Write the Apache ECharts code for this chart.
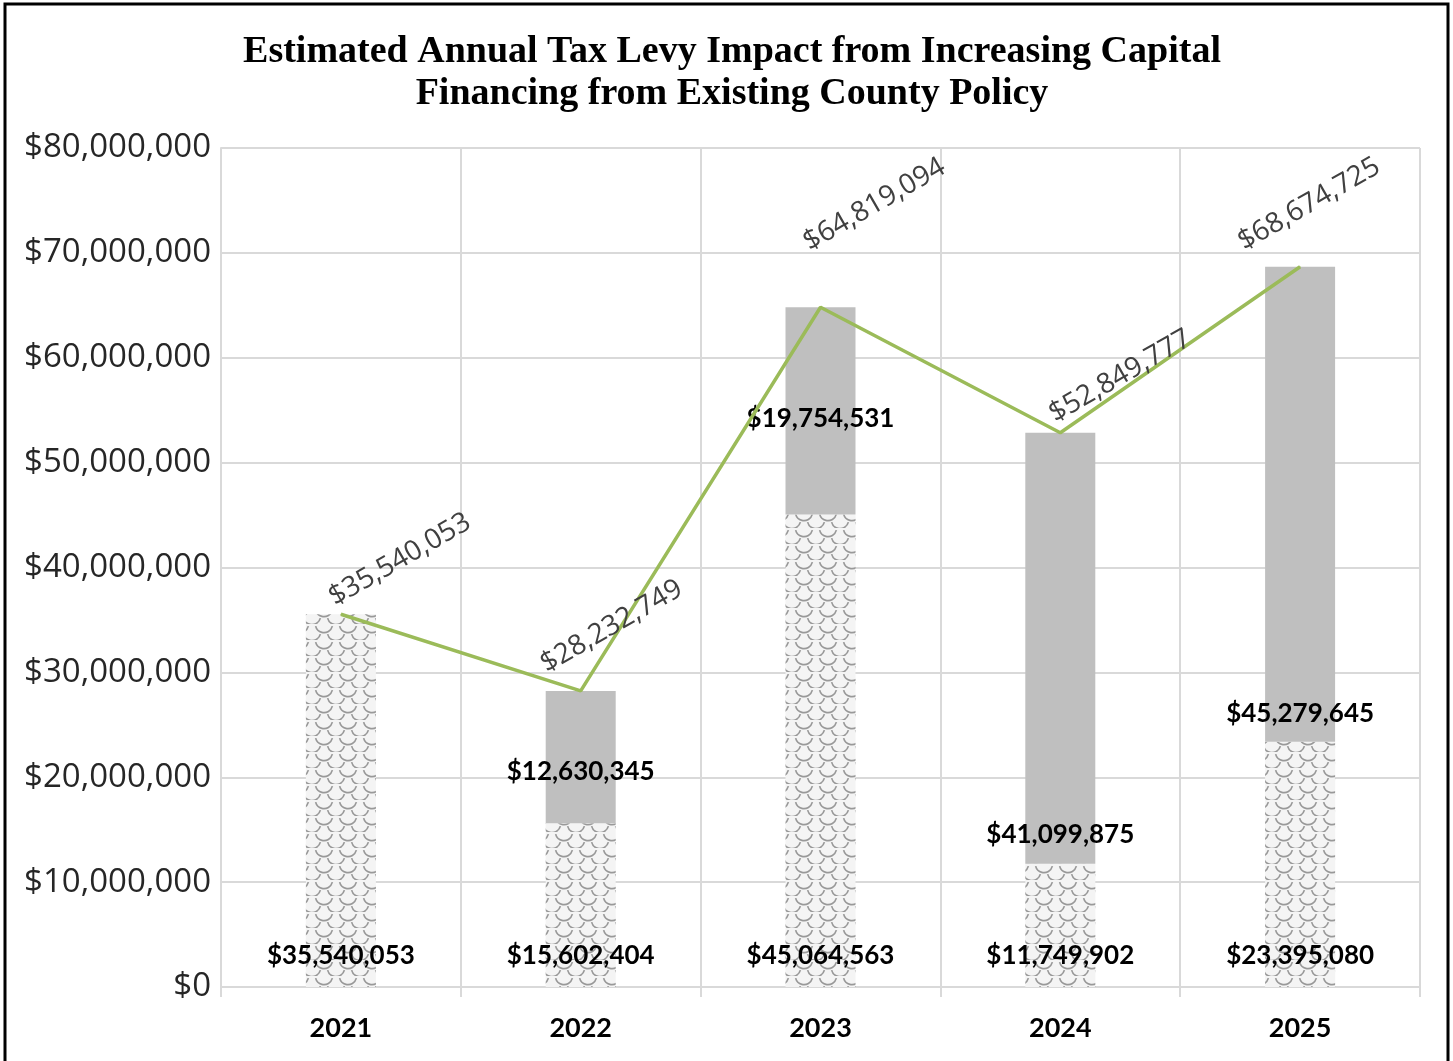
<!DOCTYPE html>
<html>
<head>
<meta charset="utf-8">
<title>Estimated Annual Tax Levy Impact</title>
<script src="https://cdn.jsdelivr.net/npm/echarts@6/dist/echarts.min.js"></script>
<style>
  html, body { margin: 0; padding: 0; background: #fff; }
  #chart { width: 1453px; height: 1061px; }
</style>
</head>
<body>
<div id="chart"></div>
<script>
const years = ['2021', '2022', '2023', '2024', '2025'];
const existingPolicy = [35540053, 15602404, 45064563, 11749902, 23395080];
const increasedFinancing = [0, 12630345, 19754531, 41099875, 45279645];
const totalLevy = [35540053, 28232749, 64819094, 52849777, 68674725];
const yTicks = [0, 10000000, 20000000, 30000000, 40000000, 50000000, 60000000, 70000000, 80000000];

// hand placed label nudges (pixels), like the manual moves in the original
const grayLabelLift = [0, 52, 96, 29, 28];
const lineLabelShift = [[59, -59], [31, -69], [54, -107], [60, -61], [9, -67]];
const LABEL_ROT = 30;

function money(v) {
  return '$' + Math.round(v).toLocaleString('en-US');
}

// echarts applies offset in the rotated frame, so undo the rotation here
function unrotate(d) {
  const t = LABEL_ROT * Math.PI / 180;
  const dx = d[0], dy = d[1] + 5;
  return [dx * Math.cos(t) - dy * Math.sin(t), dx * Math.sin(t) + dy * Math.cos(t)];
}

// scale-like fill for the lower bars
function makeScales() {
  const c = document.createElement('canvas');
  const w = 24, h = 16;
  c.width = w; c.height = h;
  const ctx = c.getContext('2d');
  ctx.fillStyle = '#f4f4f4';
  ctx.fillRect(0, 0, w, h);
  ctx.strokeStyle = '#999';
  ctx.lineWidth = 1.7;
  const r = w / 2;
  [[w / 2, 0], [0, h / 2], [w, h / 2], [w / 2, h]].forEach(p => {
    ctx.beginPath();
    ctx.arc(p[0], p[1], r * 0.72, 0.08 * Math.PI, 0.92 * Math.PI);
    ctx.stroke();
  });
  return c;
}

const chart = echarts.init(document.getElementById('chart'));
const option = {
  animation: false,
  backgroundColor: '#fff',
  title: {
    text: 'Estimated Annual Tax Levy Impact from Increasing Capital\nFinancing from Existing County Policy',
    left: 727,
    top: 26,
    textAlign: 'center',
    textStyle: {
      fontFamily: 'Liberation Serif',
      fontWeight: 'bold',
      fontSize: 38,
      lineHeight: 42,
      color: '#000'
    }
  },
  graphic: [{
    type: 'rect',
    shape: { x: 5, y: 4, width: 1443, height: 1080 },
    style: { fill: 'none', stroke: '#000', lineWidth: 3 },
    silent: true
  }],
  grid: { left: 221, right: 33, top: 148, bottom: 74 },
  xAxis: {
    type: 'category',
    data: years,
    axisLine: { lineStyle: { color: '#d9d9d9', width: 2 } },
    axisTick: { show: true, length: 10, lineStyle: { color: '#d9d9d9', width: 2 } },
    splitLine: { show: true, lineStyle: { color: '#d9d9d9', width: 2 } },
    axisLabel: {
      margin: 28,
      fontFamily: 'Lato',
      fontWeight: 'bold',
      fontSize: 27,
      color: '#000'
    }
  },
  yAxis: {
    type: 'value',
    min: 0,
    max: 80000000,
    interval: 10000000,
    axisLine: { show: true, lineStyle: { color: '#d9d9d9', width: 2 } },
    axisTick: { show: false },
    splitLine: { lineStyle: { color: '#d9d9d9', width: 2 } },
    axisLabel: {
      margin: 10,
      fontFamily: 'Open Sans',
      fontSize: 33,
      color: '#262626',
      formatter: v => yTicks.includes(v) ? money(v) : ''
    }
  },
  series: [{
    name: 'Existing Policy',
    type: 'bar',
    stack: 'levy',
    barWidth: 70,
    data: existingPolicy,
    itemStyle: { color: { image: makeScales(), repeat: 'repeat' } },
    label: {
      show: true,
      position: 'insideBottom',
      distance: 18,
      fontFamily: 'Lato',
      fontWeight: 'bold',
      fontSize: 26,
      color: '#000',
      formatter: p => money(p.value)
    },
    z: 2
  }, {
    name: 'Increased Financing',
    type: 'bar',
    stack: 'levy',
    barWidth: 70,
    data: increasedFinancing.map((v, i) => ({
      value: v,
      label: { distance: grayLabelLift[i] }
    })),
    itemStyle: { color: '#bfbfbf' },
    label: {
      show: true,
      position: 'insideBottom',
      verticalAlign: 'middle',
      fontFamily: 'Lato',
      fontWeight: 'bold',
      fontSize: 26,
      color: '#000',
      formatter: p => p.value ? money(p.value) : ''
    },
    z: 2
  }, {
    name: 'Total Levy',
    type: 'line',
    data: totalLevy.map((v, i) => ({
      value: v,
      label: { offset: unrotate(lineLabelShift[i]) }
    })),
    symbol: 'circle',
    symbolSize: 1,
    showSymbol: true,
    itemStyle: { color: '#9bbb59' },
    lineStyle: { color: '#9bbb59', width: 3.5 },
    label: {
      show: true,
      position: 'top',
      distance: 0,
      rotate: LABEL_ROT,
      align: 'center',
      verticalAlign: 'middle',
      fontFamily: 'Open Sans',
      fontSize: 28,
      color: '#404040',
      formatter: p => money(p.value)
    },
    z: 5
  }]
};
chart.setOption(option);
</script>
</body>
</html>
